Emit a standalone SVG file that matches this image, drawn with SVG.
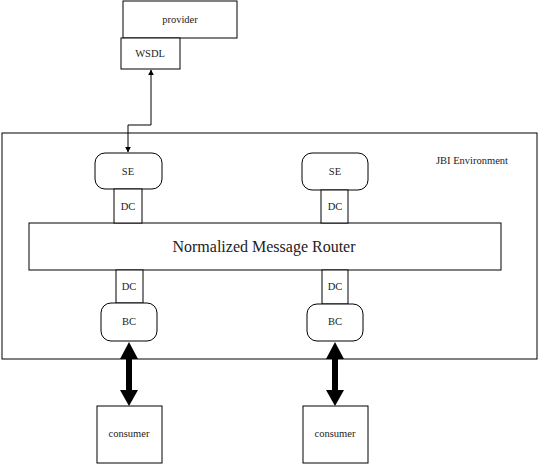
<svg xmlns="http://www.w3.org/2000/svg" width="539" height="464" viewBox="0 0 539 464">
<style>
.box{fill:#fff;stroke:#000;stroke-width:1}
.t{font-family:"Liberation Serif","Times New Roman","DejaVu Serif",serif;fill:#222;text-anchor:middle}
.s{font-size:10.5px}
.thin{fill:none;stroke:#000;stroke-width:1}
</style>
<defs>
<marker id="ah" viewBox="0 0 10 10" refX="9" refY="5" markerWidth="6" markerHeight="6" orient="auto-start-reverse" markerUnits="userSpaceOnUse">
<path d="M0,0 L10,5 L0,10 z" fill="#000"/>
</marker>
</defs>
<rect id="bg" x="0" y="0" width="539" height="464" fill="#fff"/>
<g font-family="Liberation Serif, serif">
<g id="jbi">
<rect class="box" x="2" y="133" width="535" height="226" stroke="#444"/>
<text class="t s" x="472" y="164">JBI Environment</text>
</g>
<g id="provider">
<rect class="box" x="123" y="1" width="114" height="37"/>
<text class="t s" x="180" y="23">provider</text>
</g>
<g id="wsdl">
<rect class="box" x="121" y="38" width="59" height="31"/>
<text class="t s" x="150" y="57">WSDL</text>
</g>
<g id="nmr">
<rect class="box" x="29" y="223" width="472" height="47"/>
<text class="t" x="264" y="252" font-size="16">Normalized Message Router</text>
</g>
<g id="se1">
<rect class="box" x="95" y="153" width="67" height="36" rx="10"/>
<text class="t s" x="128" y="175">SE</text>
</g>
<g id="dc1">
<rect class="box" x="114" y="189" width="28" height="34"/>
<text class="t s" x="128" y="210">DC</text>
</g>
<g id="se2">
<rect class="box" x="302" y="153" width="66" height="37" rx="10"/>
<text class="t s" x="335" y="175">SE</text>
</g>
<g id="dc2">
<rect class="box" x="321" y="190" width="27" height="33"/>
<text class="t s" x="335" y="210">DC</text>
</g>
<g id="dc3">
<rect class="box" x="116" y="270" width="27" height="33"/>
<text class="t s" x="129" y="290">DC</text>
</g>
<g id="bc1">
<rect class="box" x="101" y="303" width="56" height="38" rx="10"/>
<text class="t s" x="129" y="325">BC</text>
</g>
<g id="dc4">
<rect class="box" x="322" y="270" width="26" height="34"/>
<text class="t s" x="335" y="290">DC</text>
</g>
<g id="bc2">
<rect class="box" x="307" y="304" width="56" height="37" rx="10"/>
<text class="t s" x="335" y="325">BC</text>
</g>
<g id="consumer1">
<rect class="box" x="97" y="406" width="65" height="57"/>
<text class="t s" x="129" y="437">consumer</text>
</g>
<g id="consumer2">
<rect class="box" x="303" y="406" width="65" height="57"/>
<text class="t s" x="335" y="437">consumer</text>
</g>
</g>
<g id="connectors">
<path class="thin" d="M151,70 L151,125 L128,125 L128,152" marker-start="url(#ah)" marker-end="url(#ah)"/>
<path d="M129,342 L120,359 L126,359 L126,390 L120,390 L129,406 L138,390 L132,390 L132,359 L138,359 Z" fill="#000"/>
<path d="M335,342 L326,359 L332,359 L332,390 L326,390 L335,406 L344,390 L338,390 L338,359 L344,359 Z" fill="#000"/>
</g>
</svg>
